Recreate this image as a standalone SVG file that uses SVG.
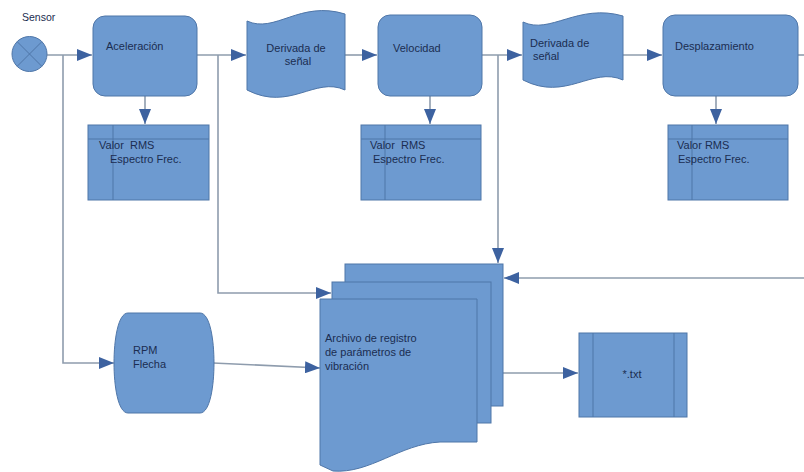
<svg xmlns="http://www.w3.org/2000/svg" width="804" height="472" viewBox="0 0 804 472">
<style>
.s{fill:#6d9ad0;stroke:#4f76a8;stroke-width:1}
.ln{fill:none;stroke:#4f76a8;stroke-width:1}
.c{fill:none;stroke:#8e9cad;stroke-width:1.6}
.t{font-family:"Liberation Sans",Arial,sans-serif;font-size:11px;fill:#1b2d50}
</style>
<defs>
<marker id="a" markerUnits="userSpaceOnUse" markerWidth="16" markerHeight="12" refX="15" refY="6" orient="auto">
<path d="M0,0 L15,6 L0,12 Z" fill="#3d62a0"/>
</marker>
</defs>
<rect width="804" height="472" fill="#ffffff"/>
<g id="connectors">
<path class="c" d="M47,55 H92" marker-end="url(#a)"/>
<path class="c" d="M63,55 V363 H114" marker-end="url(#a)"/>
<path class="c" d="M197,55 H246" marker-end="url(#a)"/>
<path class="c" d="M218,55 V293 H331" marker-end="url(#a)"/>
<path class="c" d="M145,96 V124" marker-end="url(#a)"/>
<path class="c" d="M345,55 H377" marker-end="url(#a)"/>
<path class="c" d="M430,96 V124" marker-end="url(#a)"/>
<path class="c" d="M482,55 H522" marker-end="url(#a)"/>
<path class="c" d="M498,55 V263" marker-end="url(#a)"/>
<path class="c" d="M623,55 H662" marker-end="url(#a)"/>
<path class="c" d="M716,96 V124" marker-end="url(#a)"/>
<path class="c" d="M798,55 H804"/>
<path class="c" d="M804,278 H504" marker-end="url(#a)"/>
<path class="c" d="M213,363 L320,368" marker-end="url(#a)"/>
<path class="c" d="M503,373 H578" marker-end="url(#a)"/>
</g>
<g id="sensor">
<circle class="s" cx="29.5" cy="54" r="17.5"/>
<path class="ln" d="M17.1,41.6 L41.9,66.4 M41.9,41.6 L17.1,66.4"/>
<text class="t" x="22" y="21" style="font-size:10.5px">Sensor</text>
</g>
<g id="aceleracion">
<rect class="s" x="93" y="16" width="104" height="80" rx="12"/>
<text class="t" x="106" y="50">Aceleración</text>
</g>
<g id="valor1">
<rect class="s" x="88" y="125" width="121" height="75"/>
<path class="ln" d="M88,139 H209 M113,125 V200"/>
<text class="t" x="99" y="149" xml:space="preserve">Valor  RMS</text>
<text class="t" x="110" y="163">Espectro Frec.</text>
</g>
<g id="derivada1">
<path class="s" d="M247,21 C275,34 300,0 345,14 L345,90 C315,76 290,112 247,90 Z"/>
<text class="t" x="296" y="52" text-anchor="middle">Derivada de</text>
<text class="t" x="298" y="65" text-anchor="middle">señal</text>
</g>
<g id="velocidad">
<rect class="s" x="378" y="15" width="104" height="81" rx="12"/>
<text class="t" x="393" y="52">Velocidad</text>
</g>
<g id="valor2">
<rect class="s" x="361" y="125" width="120" height="75"/>
<path class="ln" d="M361,139 H481 M385,125 V200"/>
<text class="t" x="370" y="149" xml:space="preserve">Valor  RMS</text>
<text class="t" x="373" y="163">Espectro Frec.</text>
</g>
<g id="derivada2">
<path class="s" d="M523,22 C550,35 578,3 623,16 L623,80 C592,66 566,102 523,80 Z"/>
<text class="t" x="530" y="47">Derivada de</text>
<text class="t" x="533" y="60">señal</text>
</g>
<g id="desplazamiento">
<rect class="s" x="663" y="15" width="135" height="81" rx="12"/>
<text class="t" x="675" y="50">Desplazamiento</text>
</g>
<g id="valor3">
<rect class="s" x="668" y="125" width="120" height="75"/>
<path class="ln" d="M668,139 H788 M692,125 V200"/>
<text class="t" x="677" y="149">Valor RMS</text>
<text class="t" x="678" y="163">Espectro Frec.</text>
</g>
<g id="rpm">
<path class="s" d="M128,313 H200 C210,313 214,340 214,363 C214,386 210,413 200,413 H128 C118,413 114,386 114,363 C114,340 118,313 128,313 Z"/>
<text class="t" x="133" y="354">RPM</text>
<text class="t" x="133" y="368">Flecha</text>
</g>
<g id="archivo">
<rect class="s" x="345" y="264" width="158" height="142"/>
<rect class="s" x="332" y="282" width="159" height="141"/>
<path class="s" d="M320,299 H477 V442 H440 C400,444 370,474 333,471 L320,465 Z"/>
<text class="t" x="325" y="342">Archivo de registro</text>
<text class="t" x="325" y="356">de parámetros de</text>
<text class="t" x="325" y="370">vibración</text>
</g>
<g id="txt">
<rect class="s" x="579" y="333" width="108" height="84"/>
<path class="ln" d="M593,333 V417 M674,333 V417"/>
<text class="t" x="632" y="378" text-anchor="middle">*.txt</text>
</g>
</svg>
